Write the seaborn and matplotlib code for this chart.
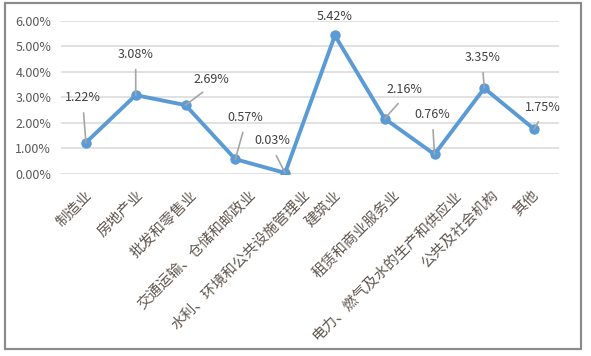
import matplotlib
matplotlib.use("Agg")
import matplotlib.pyplot as plt
from matplotlib.patches import Rectangle
from matplotlib.transforms import ScaledTranslation
import seaborn as sns
import pandas as pd

categories = ["制造业", "房地产业", "批发和零售业", "交通运输、仓储和邮政业",
              "水利、环境和公共设施管理业", "建筑业", "租赁和商业服务业",
              "电力、燃气及水的生产和供应业", "公共及社会机构", "其他"]
values = [1.22, 3.08, 2.69, 0.57, 0.03, 5.42, 2.16, 0.76, 3.35, 1.75]
y_ticks = [0, 1, 2, 3, 4, 5, 6]
y_tick_labels = [f"{v:.2f}%" for v in y_ticks]
value_labels = [f"{v:.2f}%" for v in values]

# label offsets in pixels (dx, dy, leader line)
label_offsets = [(-3, 45, True), (0, 41, True), (26, 26, True), (10, 42, True),
                 (-13, 32, True), (0, 19, False), (20, 29, True), (-2, 40, True),
                 (-2, 31, True), (9, 22, True)]

sns.set_theme(style="white")
plt.rcParams["font.family"] = ["Noto Sans CJK SC", "DejaVu Sans"]

df = pd.DataFrame({"cat": categories, "val": values})

fig = plt.figure(figsize=(5.91, 3.56), dpi=100)
ax = fig.add_axes([61/591, 1-173.7/356, (559-61)/591, (173.7-20.7)/356])

ax.yaxis.grid(True, color="#d9d9d9", lw=1.1)
ax.set_axisbelow(True)
sns.lineplot(data=df, x="cat", y="val", sort=False, ax=ax, color="#5B9BD5",
             lw=2.8, marker="o", markersize=7.5, markeredgewidth=0,
             markerfacecolor="#5B9BD5", zorder=3)

ax.set_ylim(0, 6)
ax.set_xlim(-0.5, len(categories) - 0.5)
ax.set_yticks(y_ticks)
ax.set_yticklabels(y_tick_labels)
ax.set_xticks(range(len(categories)))
ax.set_xticklabels(categories, rotation=45, ha="right", va="center",
                   rotation_mode="anchor")
ax.tick_params(axis="y", length=0, pad=7, labelsize=9, labelcolor="#595959")
ax.tick_params(axis="x", length=0, pad=14, labelsize=10.5, labelcolor="#5f5750")
ax.set_xlabel("")
ax.set_ylabel("")
for s in ax.spines.values():
    s.set_visible(False)

# Excel-style shift of rotated labels: longer labels sit further right
for lab, name in zip(ax.get_xticklabels(), categories):
    shift_px = 1.9 * (len(name) - 1)
    lab.set_transform(lab.get_transform() +
                      ScaledTranslation(shift_px / fig.dpi, 0, fig.dpi_scale_trans))

for i, (v, lab, off) in enumerate(zip(values, value_labels, label_offsets)):
    dx, dy, leader = off
    ap = None
    if leader:
        ap = dict(arrowstyle="-", color="#a6a6a6", lw=1.2, shrinkA=4,
                  shrinkB=0, relpos=(0.5, 0))
    ax.annotate(lab, xy=(i, v), xytext=(dx, dy), textcoords="offset pixels",
                ha="center", va="center", fontsize=9, color="#404040",
                arrowprops=ap, zorder=4)

fig.patches.append(Rectangle((5/591, 7/356), 576/591, 346/356,
                             transform=fig.transFigure, fill=False,
                             edgecolor="#8c8c8c", lw=1.6))

fig.savefig("out.png", dpi=100)
